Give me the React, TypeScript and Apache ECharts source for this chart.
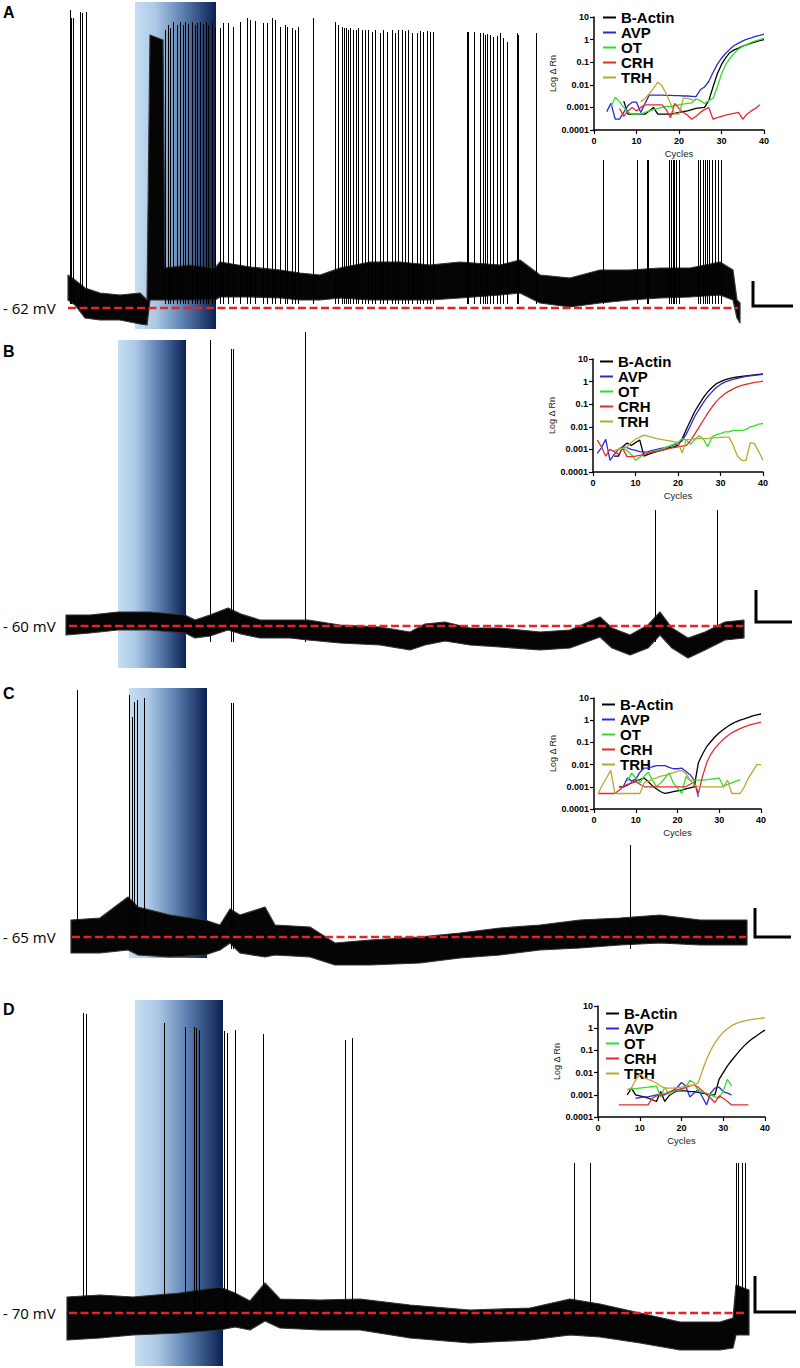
import { useEffect, useRef } from 'react';
import * as echarts from 'echarts';

// ---------------- shared ----------------
const GENES = ['B-Actin', 'AVP', 'OT', 'CRH', 'TRH'];
const GENE_COLORS = ['#000000', '#2b2bd6', '#2ee02e', '#e52b2b', '#b9a92e'];
const PANEL_LETTERS = ['A', 'B', 'C', 'D'];

// ---------------- Panel A (membrane potential, mV; time, s) ----------------
const A_BASELINE_MV = -62;
const A_STIM = [33.5, 74];
const A_BASELINE_SPAN = [0, 335];
const A_SPIKE_FOOT = -61;
// [time, lower envelope, upper envelope]
const A_TRACE = [
  [0, -60, -53.75], [3.5, -61.25, -55], [8.5, -64.5, -57], [16, -65, -58.25], [26, -65, -58.75],
  [36, -66, -58.25], [39.5, -66.25, -60], [41, -60, 6.25], [47.5, -60, 5], [48.5, -60, -52],
  [61, -60, -51.25], [73.5, -60, -52], [76, -59.25, -50.5], [91, -59.25, -51.75], [106, -59.5, -52.5],
  [116, -60, -53.25], [126, -60, -53.75], [136, -59.5, -52], [151, -60, -50.5], [166, -60, -50.5],
  [181, -60, -51.25], [196, -59.5, -50.5], [216, -58.75, -51.25], [226, -58.25, -50], [236, -60.75, -53.75],
  [251, -61.75, -54.5], [266, -60.75, -52.5], [281, -60, -52.5], [296, -59.5, -52], [311, -59.25, -52],
  [326, -58.75, -50.5], [332.5, -60, -52.5], [334.5, -64.5, -60], [336, -65.75, -60.75],
];
// [time, peak]
const A_SPIKES = [
  [1, 12.5], [1.5, 10.5], [2.5, 10.5], [6, 12], [7, 11.75], [9, 12],
  [48.5, 7.5], [50, 8.75], [51, 8], [52.5, 9.5], [54.5, 8.75], [56, 9.5], [57.5, 8.75], [58.5, 9.5], [60, 9],
  [62, 9.5], [63.5, 8.75], [64.5, 9.25], [66, 9.5], [67.5, 9], [69, 9.5], [70, 8.75], [72, 9.25], [73.5, 8],
  [76, 8], [77.5, 9.25], [80, 9.25], [82.5, 8.25], [86, 9.5], [89.5, 10.5], [91, 10], [93.5, 9.75], [97.5, 9.25],
  [99.5, 9.25], [102, 10.5], [103.5, 10], [106, 8.25], [108.5, 8.75], [109.5, 8.25], [112, 8], [113.5, 7.5],
  [115, 8.25], [122.5, 10.5],
  [133.5, 9.5], [135, 8.75], [137, 8.25], [138, 8], [139, 8], [140, 7.5], [141, 8], [142.5, 7.5], [144, 7.5],
  [145, 8], [147, 7.5], [148.5, 7.5], [150, 7.5], [152, 7], [153.5, 7.5], [156, 6.75], [157.5, 7.5], [159.5, 7],
  [162, 7.5], [163.5, 6.75], [165, 7.5],
  [167, 7.5], [168.5, 7.25], [170, 7.5], [172, 6.75], [174.5, 6.75], [176, 7.25], [177.5, 7], [179.5, 7.25],
  [181, 7], [182.5, 7],
  [199.5, 7], [200, 7], [203, 7], [206, 6.75], [207.5, 6.75], [208.5, 6.25], [209.5, 6.5], [211, 6.25],
  [212.5, 5.75], [214.5, 6], [216, 6.75], [217.5, 5.5], [219.5, 4.5], [224.5, 6.75], [225, 6.25], [234, 6.75],
  [267.5, -25], [284.5, -25], [289.5, -25], [290, -25], [300.5, -25], [301.5, -25], [302.5, -25], [303, -25],
  [304, -25], [305.5, -25], [315, -25], [316, -25], [317.5, -25], [318.5, -25], [319.5, -25], [320.5, -25],
  [322, -25], [323.5, -25], [325, -25], [326.5, -25],
];

// ---------------- Panel B ----------------
const B_BASELINE_MV = -60;
const B_STIM = [26, 60];
const B_BASELINE_SPAN = [1.5, 338.5];
const B_SPIKE_FOOT = -64;
const B_TRACE = [
  [0, -62.25, -57.25], [12, -61.75, -57.25], [26, -61, -56.5], [42, -61, -56.5], [59.5, -61.75, -57.25],
  [64.5, -63, -58.5], [72, -62.5, -57.25], [81, -61, -55.5], [87.5, -62, -57], [97, -63, -58.5],
  [112, -63, -58.5], [121, -63.5, -58.5], [137, -64.25, -59.75], [157, -64.75, -60.25], [172, -66, -61.5],
  [179.5, -64.75, -59.5], [189.5, -63.75, -59], [202, -64.75, -60.5], [217, -65.25, -60.5], [237, -66, -61.5],
  [252, -65.5, -61], [267, -62.75, -57.75], [273, -65.5, -60.5], [282, -67.25, -62.25], [291, -65.5, -59.75],
  [297, -62.25, -56.5], [303, -65.5, -60.5], [311, -68, -63], [319.5, -66, -61.5], [329.5, -63.5, -59],
  [339, -63, -58.5],
];
const B_SPIKES = [[72, 11.5], [82.5, 9.25], [83.5, 9.25], [119.5, 13.5], [294.5, -31], [325.5, -31]];

// ---------------- Panel C ----------------
const C_BASELINE_MV = -65;
const C_STIM = [29, 68];
const C_BASELINE_SPAN = [0.5, 337.5];
const C_SPIKE_FOOT = -68;
const C_TRACE = [
  [0, -69, -60.75], [14.5, -69, -60.25], [28.5, -68.25, -55], [33.5, -69.5, -57.5], [49.5, -70, -59.5],
  [67, -69.5, -60.75], [74.5, -68.25, -62], [79.5, -66.5, -58], [84.5, -69, -59.5], [97, -70, -57.5],
  [102, -69.5, -62], [119.5, -70, -62.5], [132, -72, -66.5], [149.5, -72, -65.75], [174.5, -71.5, -65],
  [194.5, -70.25, -64], [214.5, -69.5, -62.75], [234.5, -68.25, -62], [254.5, -67.75, -60.75],
  [274.5, -67, -60.25], [294.5, -66.5, -59.5], [314.5, -67, -60.75], [338, -67, -60.75],
];
const C_SPIKES = [[3, -3.25], [29, -4.5], [30.5, -10], [31.5, -6.25], [33, -5.75], [36.5, -5.25], [80, -6.5], [81, -6.5], [279.5, -42]];

// ---------------- Panel D ----------------
const D_BASELINE_MV = -70;
const D_STIM = [34, 78];
const D_BASELINE_SPAN = [1, 339.5];
const D_SPIKE_FOOT = -72;
const D_TRACE = [
  [0, -76.75, -66], [16.5, -76.25, -65.5], [33, -75.5, -66], [56.5, -75, -65], [76.5, -74.25, -63.5],
  [84, -73.5, -65], [91.5, -74.25, -67], [99, -72, -62.5], [106.5, -73.75, -66.5], [126.5, -74.25, -66.75],
  [146.5, -74.25, -66.5], [171.5, -76.25, -68], [201.5, -77.5, -69.25], [231.5, -76.75, -68.75],
  [251.5, -75.5, -66.5], [266.5, -76, -67.75], [286.5, -77.5, -70], [306.5, -79.25, -72.25],
  [326.5, -79.25, -72.25], [333, -78.75, -71.25], [334.5, -75.5, -63], [341, -75.5, -64.25],
];
const D_SPIKES = [
  [8, 5], [9.5, 4.75], [48.5, 2.5], [59, 1.5], [63.5, 1.5], [64.5, 1.25], [66, 0.75], [78.5, 0.5], [80, 0],
  [84, 0.75], [98, -0.25], [139, -1.75], [142.5, -1.25], [253.5, -32.5], [261.5, -32.5], [334.5, -32.5],
  [335.5, -32.5], [337.5, -32.5], [339, -32.5],
];

// ---------------- qPCR insets (Log ΔRn per cycle) ----------------
const A_QPCR_START = [7, 3, 4, 6, 11];
const A_QPCR_BACTIN = [0.0019, 0.0005, 0.0005, 0.0005, 0.0005, 0.0005, 0.0007, 0.001, 0.0005, 0.0005, 0.0005, 0.0005, 0.00055, 0.0006, 0.00065, 0.0007, 0.0008, 0.0009, 0.00095, 0.001, 0.002, 0.008, 0.03, 0.08, 0.16, 0.27, 0.35, 0.42, 0.52, 0.6, 0.7, 0.8, 0.9, 1.0];
const A_QPCR_AVP = [0.00065, 0.0015, 0.0003, 0.0003, 0.0006, 0.0012, 0.0017, 0.0017, 0.0006, 0.0015, 0.0035, 0.0035, 0.0035, 0.0035, 0.0034, 0.0034, 0.0033, 0.0033, 0.0032, 0.0032, 0.0031, 0.003, 0.006, 0.008, 0.014, 0.035, 0.08, 0.15, 0.25, 0.38, 0.55, 0.7, 0.88, 1.05, 1.2, 1.4, 1.55, 1.75];
const A_QPCR_OT = [0.0011, 0.0028, 0.0018, 0.001, 0.0006, 0.0005, 0.0005, 0.0005, 0.0006, 0.0007, 0.0008, 0.0009, 0.001, 0.0011, 0.0011, 0.0012, 0.0013, 0.0014, 0.0015, 0.0016, 0.0024, 0.002, 0.0015, 0.002, 0.0025, 0.008, 0.03, 0.08, 0.15, 0.25, 0.38, 0.5, 0.62, 0.75, 0.88, 1.0, 1.15];
const A_QPCR_CRH = [0.0009, 0.0004, 0.0007, 0.001, 0.0007, 0.001, 0.0013, 0.0013, 0.0013, 0.0013, 0.0013, 0.0008, 0.00035, 0.0015, 0.0009, 0.0006, 0.00045, 0.0003, 0.0004, 0.0006, 0.0008, 0.001, 0.0003, 0.00035, 0.0004, 0.00045, 0.0005, 0.00055, 0.0006, 0.0003, 0.0005, 0.0007, 0.0009, 0.0013];
const A_QPCR_TRH = [0.0018, 0.0025, 0.004, 0.007, 0.013, 0.009, 0.004, 0.0015, 0.0005, 0.0005, 0.0025, 0.0025, 0.0022, 0.002];

const B_QPCR_START = [5, 1, 6, 1, 5];
const B_QPCR_BACTIN = [0.0005, 0.0005, 0.0013, 0.0019, 0.0015, 0.002, 0.0026, 0.0005, 0.0006, 0.0007, 0.0008, 0.0009, 0.001, 0.0012, 0.0013, 0.0015, 0.003, 0.008, 0.02, 0.05, 0.1, 0.2, 0.35, 0.55, 0.8, 1.0, 1.2, 1.35, 1.5, 1.6, 1.7, 1.8, 1.9, 2.0, 2.1, 2.2];
const B_QPCR_AVP = [0.00066, 0.0012, 0.0028, 0.00033, 0.0006, 0.001, 0.0013, 0.0012, 0.001, 0.0009, 0.0008, 0.00075, 0.0008, 0.0009, 0.001, 0.0011, 0.0012, 0.0014, 0.0016, 0.0018, 0.0025, 0.005, 0.012, 0.03, 0.06, 0.12, 0.22, 0.35, 0.55, 0.75, 0.95, 1.1, 1.25, 1.4, 1.55, 1.7, 1.8, 1.9, 2.0, 2.1];
const B_QPCR_OT = [0.0011, 0.0011, 0.0009, 0.0006, 0.00033, 0.00045, 0.0006, 0.0007, 0.0008, 0.0009, 0.001, 0.0012, 0.0014, 0.0017, 0.002, 0.003, 0.0025, 0.0017, 0.0028, 0.004, 0.0028, 0.0013, 0.0035, 0.0045, 0.005, 0.006, 0.006, 0.007, 0.007, 0.007, 0.0075, 0.01, 0.011, 0.013, 0.014];
const B_QPCR_CRH = [0.0026, 0.0013, 0.0005, 0.001, 0.0008, 0.0006, 0.0011, 0.00048, 0.00048, 0.0005, 0.00055, 0.0006, 0.00068, 0.00075, 0.00082, 0.0009, 0.001, 0.0011, 0.0012, 0.0013, 0.0014, 0.0015, 0.0025, 0.005, 0.01, 0.02, 0.04, 0.075, 0.13, 0.2, 0.29, 0.38, 0.48, 0.58, 0.68, 0.76, 0.84, 0.92, 0.98, 1.05];
const B_QPCR_TRH = [0.0009, 0.001, 0.0011, 0.0013, 0.002, 0.0028, 0.0035, 0.0043, 0.0038, 0.0034, 0.003, 0.0028, 0.0026, 0.0024, 0.0022, 0.002, 0.0007, 0.0027, 0.0028, 0.003, 0.003, 0.003, 0.003, 0.0032, 0.0033, 0.0034, 0.0035, 0.0035, 0.0015, 0.0005, 0.00033, 0.00033, 0.002, 0.0018, 0.0008, 0.00033];

const C_QPCR_START = [6, 7, 8, 1, 1];
const C_QPCR_BACTIN = [0.001, 0.001, 0.0012, 0.0015, 0.0018, 0.0021, 0.0025, 0.0017, 0.0011, 0.0008, 0.0006, 0.0005, 0.00055, 0.0006, 0.00065, 0.0007, 0.0008, 0.0009, 0.001, 0.012, 0.03, 0.065, 0.11, 0.18, 0.27, 0.38, 0.52, 0.68, 0.85, 1.0, 1.15, 1.35, 1.55, 1.75, 1.9];
const C_QPCR_AVP = [0.001, 0.0025, 0.0018, 0.0022, 0.0045, 0.007, 0.007, 0.008, 0.009, 0.009, 0.009, 0.0075, 0.0065, 0.0065, 0.007, 0.005, 0.0035, 0.002, 0.00035];
const C_QPCR_OT = [0.0018, 0.0042, 0.0025, 0.0015, 0.003, 0.0045, 0.002, 0.001, 0.0015, 0.0025, 0.0042, 0.0015, 0.0009, 0.0005, 0.0028, 0.002, 0.002, 0.002, 0.002, 0.0021, 0.0022, 0.0023, 0.0025, 0.001, 0.0013, 0.0015, 0.0018, 0.0021];
const C_QPCR_CRH = [0.0005, 0.0005, 0.0005, 0.0005, 0.0005, 0.0007, 0.001, 0.0013, 0.0015, 0.0017, 0.0013, 0.001, 0.001, 0.001, 0.001, 0.001, 0.001, 0.001, 0.001, 0.001, 0.001, 0.001, 0.0013, 0.0016, 0.0005, 0.003, 0.012, 0.03, 0.055, 0.09, 0.14, 0.2, 0.27, 0.34, 0.42, 0.5, 0.58, 0.66, 0.74, 0.82];
const C_QPCR_TRH = [0.0005, 0.0012, 0.0025, 0.0055, 0.0005, 0.0005, 0.0005, 0.0005, 0.0005, 0.0005, 0.0005, 0.0015, 0.0018, 0.0022, 0.0025, 0.003, 0.0033, 0.0038, 0.0043, 0.005, 0.0055, 0.004, 0.002, 0.0012, 0.001, 0.001, 0.001, 0.001, 0.001, 0.001, 0.001, 0.002, 0.0005, 0.0005, 0.0005, 0.001, 0.0025, 0.005, 0.01, 0.01];

const D_QPCR_START = [7, 9, 7, 5, 7];
const D_QPCR_BACTIN = [0.001, 0.002, 0.001, 0.0009, 0.0008, 0.0007, 0.0006, 0.0005, 0.0014, 0.0005, 0.0009, 0.0012, 0.0015, 0.0015, 0.0015, 0.0014, 0.0014, 0.0013, 0.0012, 0.0011, 0.001, 0.001, 0.005, 0.01, 0.02, 0.035, 0.06, 0.1, 0.16, 0.24, 0.34, 0.46, 0.62, 0.82];
const D_QPCR_AVP = [0.0007, 0.00075, 0.0008, 0.0008, 0.0009, 0.001, 0.001, 0.001, 0.0013, 0.0016, 0.0022, 0.0036, 0.0025, 0.0008, 0.0012, 0.0017, 0.0008, 0.00035, 0.0012, 0.002, 0.0022, 0.0014, 0.0012, 0.001];
const D_QPCR_OT = [0.0017, 0.0018, 0.0019, 0.002, 0.0021, 0.0022, 0.0023, 0.0025, 0.0008, 0.0022, 0.001, 0.0013, 0.0016, 0.0017, 0.0022, 0.0045, 0.0035, 0.0015, 0.0013, 0.0012, 0.001, 0.0008, 0.0007, 0.0015, 0.005, 0.0025];
const D_QPCR_CRH = [0.00035, 0.00035, 0.00035, 0.00035, 0.00035, 0.00035, 0.00035, 0.00035, 0.0007, 0.0009, 0.001, 0.0011, 0.0013, 0.0015, 0.0017, 0.0019, 0.0021, 0.0025, 0.0027, 0.0022, 0.0015, 0.001, 0.0007, 0.00045, 0.0009, 0.0007, 0.0005, 0.00035, 0.00035, 0.00035, 0.00035, 0.00035];
const D_QPCR_TRH = [0.0017, 0.002, 0.0045, 0.0088, 0.006, 0.005, 0.0042, 0.0034, 0.0025, 0.002, 0.002, 0.002, 0.0021, 0.0022, 0.0024, 0.0027, 0.0026, 0.0035, 0.012, 0.04, 0.1, 0.22, 0.4, 0.65, 0.95, 1.3, 1.6, 1.9, 2.1, 2.3, 2.5, 2.65, 2.8, 2.9];

// ---------------- assembled tables ----------------
const PANELS = [
  { base: A_BASELINE_MV, stim: A_STIM, span: A_BASELINE_SPAN, foot: A_SPIKE_FOOT, trace: A_TRACE, spikes: A_SPIKES },
  { base: B_BASELINE_MV, stim: B_STIM, span: B_BASELINE_SPAN, foot: B_SPIKE_FOOT, trace: B_TRACE, spikes: B_SPIKES },
  { base: C_BASELINE_MV, stim: C_STIM, span: C_BASELINE_SPAN, foot: C_SPIKE_FOOT, trace: C_TRACE, spikes: C_SPIKES },
  { base: D_BASELINE_MV, stim: D_STIM, span: D_BASELINE_SPAN, foot: D_SPIKE_FOOT, trace: D_TRACE, spikes: D_SPIKES },
];
const QPCR = [
  { start: A_QPCR_START, values: [A_QPCR_BACTIN, A_QPCR_AVP, A_QPCR_OT, A_QPCR_CRH, A_QPCR_TRH] },
  { start: B_QPCR_START, values: [B_QPCR_BACTIN, B_QPCR_AVP, B_QPCR_OT, B_QPCR_CRH, B_QPCR_TRH] },
  { start: C_QPCR_START, values: [C_QPCR_BACTIN, C_QPCR_AVP, C_QPCR_OT, C_QPCR_CRH, C_QPCR_TRH] },
  { start: D_QPCR_START, values: [D_QPCR_BACTIN, D_QPCR_AVP, D_QPCR_OT, D_QPCR_CRH, D_QPCR_TRH] },
];

// ---------------- layout (pixels) ----------------
const PX_PER_MV = 4;
const SEC_PER_PX = 0.5;
const TRACE_LAYOUT = [
  { left: 68, top: 2, width: 672, height: 327, zeroY: 308, letterY: 4, bar: [[753, 281], [753, 306], [793, 306]] },
  { left: 66, top: 340, width: 678, height: 328, zeroY: 626, letterY: 343, bar: [[756, 590], [756, 622], [792, 622]] },
  { left: 71, top: 688, width: 676, height: 270, zeroY: 937, letterY: 685, bar: [[755, 908], [755, 937], [791, 937]] },
  { left: 67, top: 1000, width: 682, height: 366, zeroY: 1313, letterY: 1001, bar: [[755, 1276], [755, 1312], [796, 1312]] },
];
const INSET_LAYOUT = [
  { left: 594, top: 17, width: 170, height: 113, legendLeft: 603, legendTop: 10, row: 14.3 },
  { left: 593, top: 359, width: 170, height: 113, legendLeft: 600, legendTop: 354, row: 14.5 },
  { left: 594, top: 698, width: 167, height: 111, legendLeft: 602, legendTop: 697, row: 12.5 },
  { left: 598, top: 1006, width: 167, height: 111, legendLeft: 606, legendTop: 1006, row: 13.5 },
];

const FONT = '"Liberation Sans", Arial, sans-serif';

function stimGradient() {
  return new echarts.graphic.LinearGradient(0, 0, 1, 0, [
    { offset: 0, color: '#c6def3' },
    { offset: 0.25, color: '#acc9e7' },
    { offset: 0.6, color: '#5a7eaf' },
    { offset: 1, color: '#0a2152' },
  ]);
}

function logLabel(v: number) {
  const e = Math.round(Math.log10(v));
  return e >= 0 ? String(Math.pow(10, e)) : '0.' + '0'.repeat(-e - 1) + '1';
}

function buildOption() {
  const grid: any[] = [];
  const xAxis: any[] = [];
  const yAxis: any[] = [];
  const series: any[] = [];
  const legend: any[] = [];
  const graphic: any[] = [];

  PANELS.forEach((p, i) => {
    const L = TRACE_LAYOUT[i];
    grid.push({ left: L.left, top: L.top, width: L.width, height: L.height, containLabel: false });
    xAxis.push({ gridIndex: i, type: 'value', min: 0, max: L.width * SEC_PER_PX, show: false });
    yAxis.push({
      gridIndex: i, type: 'value', show: false,
      max: p.base + (L.zeroY - L.top) / PX_PER_MV,
      min: p.base - (L.top + L.height - L.zeroY) / PX_PER_MV,
    });
    // light stimulus
    series.push({
      type: 'custom', name: 'stim' + i, xAxisIndex: i, yAxisIndex: i, z: 1, silent: true,
      data: [p.stim],
      encode: { x: [0, 1] },
      renderItem: (params: any, api: any) => {
        const cs = params.coordSys;
        const a = api.coord([api.value(0), p.base]);
        const b = api.coord([api.value(1), p.base]);
        return {
          type: 'rect',
          shape: { x: a[0], y: cs.y, width: b[0] - a[0], height: cs.height },
          style: { fill: stimGradient() },
        };
      },
    });
    // noisy membrane trace envelope
    const tr = p.trace;
    series.push({
      type: 'custom', name: 'trace' + i, xAxisIndex: i, yAxisIndex: i, z: 3, silent: true,
      data: tr,
      encode: { x: 0, y: [1, 2] },
      renderItem: (params: any, api: any) => {
        if (params.dataIndex !== 0) return { type: 'group', children: [] };
        const upper = tr.map((d) => api.coord([d[0], d[2]]));
        const lower = tr.slice().reverse().map((d) => api.coord([d[0], d[1]]));
        return {
          type: 'polygon',
          shape: { points: upper.concat(lower) },
          style: { fill: '#050505', stroke: '#333', lineWidth: 1.2, lineJoin: 'round' },
        };
      },
    });
    // action potentials
    series.push({
      type: 'custom', name: 'spikes' + i, xAxisIndex: i, yAxisIndex: i, z: 4, silent: true,
      data: p.spikes,
      encode: { x: 0, y: 1 },
      renderItem: (params: any, api: any) => {
        const a = api.coord([api.value(0), p.foot]);
        const b = api.coord([api.value(0), api.value(1)]);
        const x = Math.round(a[0]) + 0.5;
        return {
          type: 'line',
          shape: { x1: x, y1: a[1], x2: x, y2: b[1] },
          style: { stroke: '#000', lineWidth: 1 },
        };
      },
    });
    // resting potential
    series.push({
      type: 'line', name: 'rest' + i, xAxisIndex: i, yAxisIndex: i, z: 6, silent: true,
      data: [[p.span[0], p.base], [p.span[1], p.base]],
      symbol: 'none',
      lineStyle: { color: '#e3242b', width: 2.6, type: [8, 3.5] },
    });

    graphic.push({
      type: 'text', x: 3, y: L.letterY, z: 10,
      style: { text: PANEL_LETTERS[i], fontSize: 16, fontWeight: 'bold', fontFamily: FONT, fill: '#000' },
    });
    graphic.push({
      type: 'text', x: 3, y: L.zeroY, z: 10,
      style: { text: '- ' + String(-p.base) + ' mV', fontSize: 15, fontFamily: '"Open Sans", sans-serif', fill: '#000', verticalAlign: 'middle' },
    });
    graphic.push({
      type: 'polyline', z: 10,
      shape: { points: L.bar },
      style: { stroke: '#000', lineWidth: 3, fill: null },
    });
  });

  QPCR.forEach((q, j) => {
    const L = INSET_LAYOUT[j];
    const gi = 4 + j;
    grid.push({ left: L.left, top: L.top, width: L.width, height: L.height, containLabel: false });
    xAxis.push({
      gridIndex: gi, type: 'value', min: 0, max: 40, interval: 10,
      name: 'Cycles', nameLocation: 'middle', nameGap: 18,
      nameTextStyle: { fontSize: 9.5, color: '#222', fontFamily: FONT },
      axisLine: { show: true, lineStyle: { color: '#000', width: 1.5 } },
      axisTick: { show: true, length: 4, lineStyle: { color: '#000', width: 1.2 } },
      axisLabel: { fontSize: 9, fontWeight: 'bold', color: '#000', margin: 6, fontFamily: FONT },
      splitLine: { show: false },
    });
    yAxis.push({
      gridIndex: gi, type: 'log', logBase: 10, min: 0.0001, max: 10,
      name: 'Log Δ Rn', nameLocation: 'middle', nameGap: 35, nameRotate: 90,
      nameTextStyle: { fontSize: 9, color: '#222', fontFamily: FONT },
      axisLine: { show: true, lineStyle: { color: '#000', width: 1.5 } },
      axisTick: { show: true, length: 4, lineStyle: { color: '#000', width: 1.2 } },
      axisLabel: { fontSize: 9, fontWeight: 'bold', color: '#000', margin: 5, fontFamily: FONT, formatter: logLabel },
      splitLine: { show: false },
      minorTick: { show: false },
    });
    GENES.forEach((g, k) => {
      series.push({
        type: 'line', name: g, xAxisIndex: gi, yAxisIndex: gi, z: 8, silent: true,
        color: GENE_COLORS[k],
        data: q.values[k].map((v, n) => [q.start[k] + n, v]),
        symbol: 'none',
        lineStyle: { color: GENE_COLORS[k], width: 1.3 },
      });
    });
    legend.push({
      data: GENES.map((g) => ({ name: g, icon: 'rect' })),
      orient: 'vertical', left: L.legendLeft, top: L.legendTop, padding: 0,
      itemWidth: 13, itemHeight: 2, itemGap: 0, selectedMode: false,
      textStyle: { fontSize: 15, fontWeight: 'bold', color: '#000', fontFamily: FONT, lineHeight: L.row },
    });
  });

  return {
    animation: false,
    backgroundColor: '#ffffff',
    textStyle: { fontFamily: FONT },
    grid, xAxis, yAxis, series, legend, graphic,
  };
}

export default function App() {
  const ref = useRef<HTMLDivElement>(null);
  useEffect(() => {
    if (!ref.current) return;
    const chart = echarts.init(ref.current, undefined, { renderer: 'svg' });
    chart.setOption(buildOption() as any);
    return () => chart.dispose();
  }, []);
  return <div ref={ref} style={{ position: 'absolute', left: 0, top: 0, width: 800, height: 1368 }} />;
}
